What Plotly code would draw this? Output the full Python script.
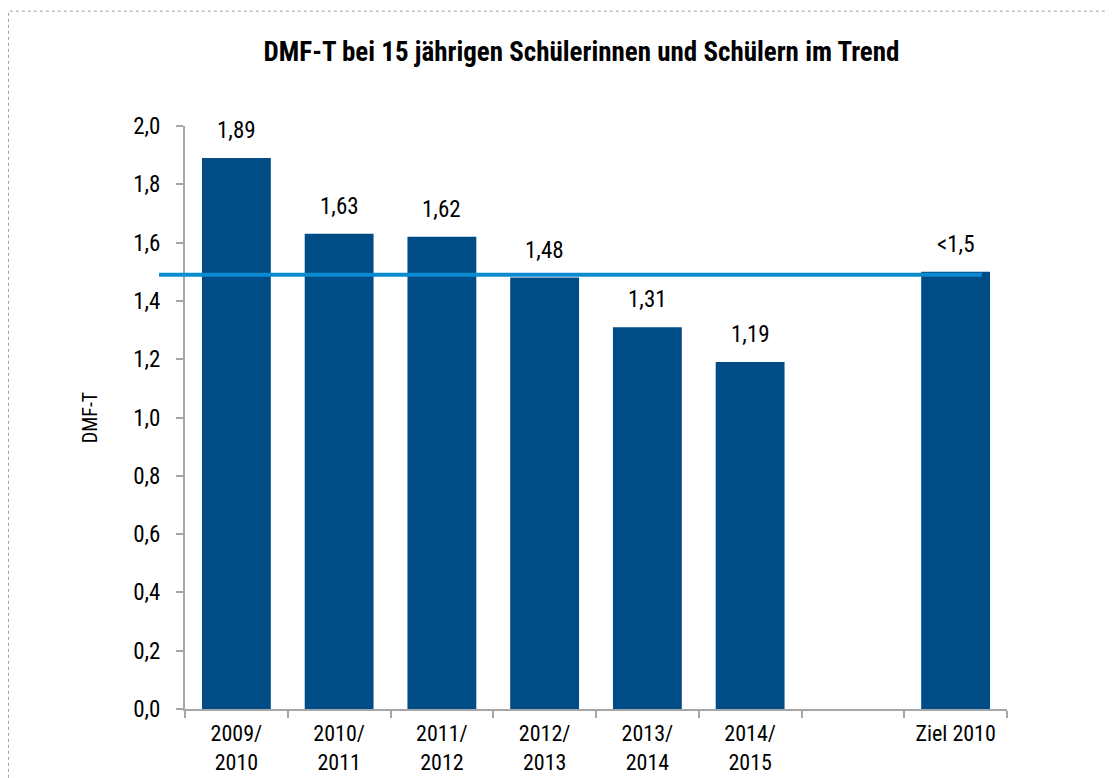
import plotly.graph_objects as go

categories = ["2009/<br>2010", "2010/<br>2011", "2011/<br>2012", "2012/<br>2013",
              "2013/<br>2014", "2014/<br>2015", " ", "Ziel 2010"]
values = [1.89, 1.63, 1.62, 1.48, 1.31, 1.19, None, 1.5]
labels = ["1,89", "1,63", "1,62", "1,48", "1,31", "1,19", "", "<1,5"]
target_value = 1.49
y_ticks = [0.0, 0.2, 0.4, 0.6, 0.8, 1.0, 1.2, 1.4, 1.6, 1.8, 2.0]

FONT = "Roboto Condensed, Liberation Sans, Arial, sans-serif"
BAR = "#004C86"
LINE = "#0A8BD0"
AXIS = "#A6A6A6"

fig = go.Figure()
fig.add_trace(go.Bar(
    x=categories, y=values,
    marker=dict(color=BAR, line=dict(width=0)),
    showlegend=False, hoverinfo="x+y",
))

# value labels above bars
for c, v, t in zip(categories, values, labels):
    if v is None:
        continue
    fig.add_annotation(x=c, y=v, xref="x", yref="y", text=t, showarrow=False,
                       yanchor="bottom", yshift=12,
                       font=dict(family=FONT, size=23, color="#000000"))

fig.add_shape(type="line", xref="paper", yref="y",
              x0=-0.0316, x1=0.9696, y0=target_value, y1=target_value,
              line=dict(color=LINE, width=4))

# dotted outer frame
fig.add_shape(type="rect", xref="paper", yref="paper",
              x0=-0.2147, x1=1.5, y0=-0.5, y1=1.197,
              line=dict(color="#A0A0A0", width=1, dash="dot"))

fig.update_layout(
    width=1116, height=778,
    margin=dict(l=177, r=117, t=118, b=77),
    paper_bgcolor="white", plot_bgcolor="white",
    separators=",.",
    bargap=0.33,
    font=dict(family=FONT, color="#000000"),
    title=dict(text="<b>DMF-T bei 15 jährigen Schülerinnen und Schülern im Trend</b>",
               x=0.4824, xref="paper", xanchor="center",
               y=1 - 44 / 778, yref="container", yanchor="middle",
               font=dict(family=FONT, size=27, color="#000000")),
)

fig.update_xaxes(
    type="category", categoryorder="array", categoryarray=categories,
    showline=True, linecolor=AXIS, linewidth=2,
    ticks="outside", tickson="boundaries", ticklen=7, tickcolor=AXIS, tickwidth=2,
    showgrid=False, tickfont=dict(family=FONT, size=22, color="#000000"),
    ticklabelstandoff=4,
)
fig.update_yaxes(
    range=[0, 2.0], tickvals=y_ticks, tickformat=".1f",
    showline=True, linecolor=AXIS, linewidth=2,
    ticks="outside", ticklen=7, tickcolor=AXIS, tickwidth=2,
    showgrid=False, zeroline=False,
    tickfont=dict(family=FONT, size=23, color="#000000"),
    ticklabelstandoff=11,
    title=dict(text="DMF-T", font=dict(family=FONT, size=20, color="#000000"), standoff=30),
)

fig.write_html("out.html")
